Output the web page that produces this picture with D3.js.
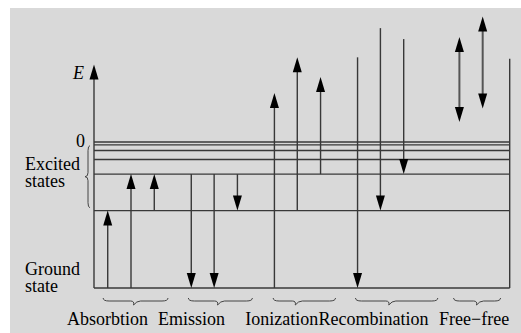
<!DOCTYPE html>
<html><head><meta charset="utf-8">
<script src="https://cdn.jsdelivr.net/npm/d3@7"></script>
<style>body{margin:0;background:#fff}svg{display:block}</style>
</head><body>
<svg id="chart" width="521" height="333"></svg>
<script>
// Energy levels (arbitrary units; continuum edge = 0, ground = -100)
const levelEnergies = [0, -2, -5.8, -12, -22, -47];
const groundEnergy = -100;
const axisTop = 53;      // energy at tip of E axis
const rightEdgeTop = 57; // energy at top of right boundary line

// Transitions: x position (0..100 units), from energy, to energy
const transitions = [
  {proc:"Absorbtion",   x:3.3,  from:-100, to:-47},
  {proc:"Absorbtion",   x:8.9,  from:-100, to:-22},
  {proc:"Absorbtion",   x:14.5, from:-47,  to:-22},
  {proc:"Emission",     x:23.4, from:-22,  to:-100},
  {proc:"Emission",     x:28.9, from:-22,  to:-100},
  {proc:"Emission",     x:34.5, from:-22,  to:-47},
  {proc:"Ionization",   x:43.4, from:-100, to:33.6},
  {proc:"Ionization",   x:48.9, from:-47,  to:58},
  {proc:"Ionization",   x:54.5, from:-22,  to:44.5},
  {proc:"Recombination",x:63.4, from:58,   to:-100},
  {proc:"Recombination",x:68.9, from:78,   to:-47},
  {proc:"Recombination",x:74.5, from:70.5, to:-22},
  {proc:"Free\u2212free",x:87.9, from:72,  to:13.7, both:true},
  {proc:"Free\u2212free",x:93.5, from:86,  to:23,   both:true}
];

// Process groups: brace extent and label start (x units)
const processes = ["Absorbtion","Emission","Ionization","Recombination","Free\u2212free"];
const braceStart = [2.2, 22.7, 43.1, 62.9, 86.5];
const braceEnd   = [17.8, 38.1, 58.1, 82.7, 97.8];
const braceTip   = [10, 30.2, 48.9, 71.4, 92.5];
const labelStart = [-6.5, 15.4, 36.4, 54, 83];

const FONT = '"Liberation Serif"';
const svg = d3.select("#chart");
const x = d3.scaleLinear().domain([0, 100]).range([94, 509.7]);
const y = d3.scaleLinear().domain([groundEnergy, 0]).range([288, 142]);

svg.append("rect").attr("x",10).attr("y",8).attr("width",511).attr("height",325).attr("fill","#d9d9d9");

const lineCol = "#383838";

// Level lines
svg.append("g").selectAll("line").data(levelEnergies.concat([groundEnergy])).join("line")
  .attr("x1", x(0)).attr("x2", x(100))
  .attr("y1", d=>y(d)).attr("y2", d=>y(d))
  .attr("stroke", lineCol).attr("stroke-width", 1.4);

function head(g, xv, yTip, dir){ // dir -1 = pointing up, +1 = pointing down
  const L = 15, W = 4.5;
  g.append("path")
    .attr("d", `M${xv},${yTip} L${xv-W},${yTip - dir*L} L${xv+W},${yTip - dir*L} Z`)
    .attr("fill", "#000");
}

// Axis
const ax = svg.append("g");
ax.append("line").attr("x1",x(0)).attr("x2",x(0)).attr("y1",y(groundEnergy)).attr("y2",y(axisTop)+8)
  .attr("stroke",lineCol).attr("stroke-width",1.4);
head(ax, x(0), y(axisTop), -1);
// Right boundary
svg.append("line").attr("x1",x(100)).attr("x2",x(100)).attr("y1",y(groundEnergy)).attr("y2",y(rightEdgeTop))
  .attr("stroke",lineCol).attr("stroke-width",1.4);

// Transitions
const tg = svg.append("g");
transitions.forEach(t => {
  const xv = x(t.x), y1 = y(t.from), y2 = y(t.to);
  const dir = y2 > y1 ? 1 : -1;
  tg.append("line").attr("x1",xv).attr("x2",xv)
    .attr("y1", t.both ? y1 + dir*8 : y1).attr("y2", y2 - dir*8)
    .attr("stroke", t.both ? "#555" : lineCol).attr("stroke-width", t.both ? 2 : 1.4);
  head(tg, xv, y2, dir);
  if (t.both) head(tg, xv, y1, -dir);
});

// Braces under process groups
const by = 298;
processes.forEach((p,i) => {
  const x1 = x(braceStart[i]), x2 = x(braceEnd[i]), xm = x(braceTip[i]);
  const d = `M${x1},${by} Q${x1},${by+3} ${x1+6},${by+3} L${xm-5},${by+3} Q${xm-1},${by+3} ${xm-2},${by+7} ` +
            `M${xm-2},${by+7} Q${xm+1},${by+3} ${xm+5},${by+3} L${x2-6},${by+3} Q${x2},${by+3} ${x2},${by}`;
  svg.append("path").attr("d",d).attr("fill","none").attr("stroke","#444").attr("stroke-width",1);
  svg.append("text").attr("x", x(labelStart[i])).attr("y", 325)
    .attr("font-size", 18).style("font-family", FONT).attr("fill","#000").text(p);
});

// Excited-states brace (vertical, pointing left)
const bx = 88, yT = y(-2.5), yB = y(-45), yM = (yT+yB)/2;
svg.append("path").attr("d",
  `M${bx+2},${yT} Q${bx},${yT} ${bx},${yT+5} L${bx},${yM-4} Q${bx},${yM} ${bx-3},${yM} ` +
  `M${bx-3},${yM} Q${bx},${yM} ${bx},${yM+4} L${bx},${yB-5} Q${bx},${yB} ${bx+2},${yB}`)
  .attr("fill","none").attr("stroke","#444").attr("stroke-width",1);

// Left labels
function lab(lines, xx, yy, anchor, style){
  const t = svg.append("text").attr("x",xx).attr("y",yy)
    .attr("font-size",18).style("font-family", FONT).attr("text-anchor",anchor||"start")
    .attr("font-style",style||"normal");
  lines.forEach((s,i) => t.append("tspan").attr("x",xx).attr("dy", i===0 ? 0 : 17).text(s));
}
lab(["0"], 85, 147, "end");
lab(["Excited","states"], 25, 170);
lab(["Ground","state"], 25, 275);
lab(["E"], 84, 79, "end", "italic");
</script>
</body></html>
